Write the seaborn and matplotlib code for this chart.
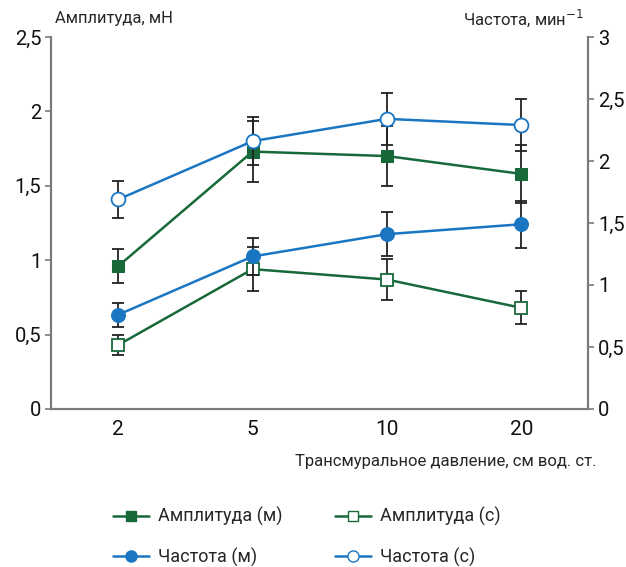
import matplotlib
matplotlib.use("Agg")
import matplotlib.pyplot as plt
import numpy as np
import pandas as pd
import seaborn as sns

# transmural pressure, cm H2O (categorical x)
pressure = ["2", "5", "10", "20"]

# amplitude, mN (left axis)
amp_m = [0.96, 1.73, 1.70, 1.58]
amp_m_err = [0.115, 0.205, 0.20, 0.195]
amp_c = [0.43, 0.94, 0.87, 0.68]
amp_c_err = [0.066, 0.15, 0.14, 0.11]

# frequency, min^-1 (right axis)
freq_m = [0.76, 1.23, 1.41, 1.49]
freq_m_err = [0.097, 0.15, 0.18, 0.19]
freq_c = [1.69, 2.16, 2.34, 2.29]
freq_c_err = [0.148, 0.195, 0.21, 0.21]

GREEN = "#17693a"
BLUE = "#1a76c2"
GRID = "#7a7a7a"


def comma(v):
    s = f"{v:g}"
    return s.replace(".", ",")


def main() -> None:
    sns.set_style("white")
    plt.rcParams["font.family"] = ["Roboto", "DejaVu Sans"]
    plt.rcParams["axes.unicode_minus"] = False

    pos = np.arange(len(pressure))
    df = pd.DataFrame({
        "pos": pos,
        "amp_m": amp_m, "amp_c": amp_c,
        "freq_m": freq_m, "freq_c": freq_c,
    })

    fig = plt.figure(figsize=(6.26, 5.67), dpi=100)
    ax = fig.add_axes([0.0815, 0.2787, 0.8585, 0.656])
    ax2 = ax.twinx()

    err_kw = dict(fmt="none", ecolor="#222222", elinewidth=1.3, capsize=4, capthick=1.3)

    ax.errorbar(pos, amp_m, yerr=amp_m_err, zorder=1, **err_kw)
    ax.errorbar(pos, amp_c, yerr=amp_c_err, zorder=1, **err_kw)
    sns.lineplot(data=df, x="pos", y="amp_m", ax=ax, color=GREEN, lw=1.8,
                 marker="s", markersize=8.5, markerfacecolor=GREEN,
                 markeredgecolor=GREEN, zorder=3)
    sns.lineplot(data=df, x="pos", y="amp_c", ax=ax, color=GREEN, lw=1.8,
                 marker="s", markersize=8, markerfacecolor="white",
                 markeredgecolor=GREEN, markeredgewidth=1.3, zorder=3)

    ax2.errorbar(pos, freq_m, yerr=freq_m_err, zorder=1, **err_kw)
    ax2.errorbar(pos, freq_c, yerr=freq_c_err, zorder=1, **err_kw)
    sns.lineplot(data=df, x="pos", y="freq_m", ax=ax2, color=BLUE, lw=1.8,
                 marker="o", markersize=10, markerfacecolor=BLUE,
                 markeredgecolor=BLUE, zorder=3)
    sns.lineplot(data=df, x="pos", y="freq_c", ax=ax2, color=BLUE, lw=1.8,
                 marker="o", markersize=10, markerfacecolor="white",
                 markeredgecolor=BLUE, markeredgewidth=1.3, zorder=3)

    ax.set_xlim(-0.5, len(pressure) - 0.5)
    ax.set_ylim(0, 2.5)
    ax2.set_ylim(0, 3)
    ax.set_xticks(pos)
    ax.set_xticklabels(pressure)
    lt = np.arange(0, 2.51, 0.5)
    rt = np.arange(0, 3.01, 0.5)
    ax.set_yticks(lt)
    ax.set_yticklabels([comma(v) for v in lt])
    ax2.set_yticks(rt)
    ax2.set_yticklabels([comma(v) for v in rt])

    for a in (ax, ax2):
        a.set_xlabel("")
        a.set_ylabel("")
        a.spines["top"].set_visible(False)
        for s in ("left", "right", "bottom"):
            a.spines[s].set_color(GRID)
            a.spines[s].set_linewidth(1.5)
        a.tick_params(axis="y", length=4, width=1.2, color=GRID, labelsize=14.5,
                      labelcolor="#111111", pad=3)
    ax.tick_params(axis="x", length=0, labelsize=15, labelcolor="#111111", pad=8)
    ax.grid(False)
    ax2.grid(False)

    fig.text(0.088, 0.968, "Амплитуда, мН", fontsize=12, ha="left", va="center")
    fig.text(0.932, 0.968, "Частота, мин$^{-1}$", fontsize=12, ha="right", va="center")
    fig.text(0.953, 0.186, "Трансмуральное давление, см вод. ст.", fontsize=12,
             ha="right", va="center")

    handles = [
        plt.Line2D([], [], color=GREEN, lw=1.8, marker="s", markersize=7,
                   markerfacecolor=GREEN, markeredgecolor=GREEN),
        plt.Line2D([], [], color=BLUE, lw=1.8, marker="o", markersize=8,
                   markerfacecolor=BLUE, markeredgecolor=BLUE),
        plt.Line2D([], [], color=GREEN, lw=1.8, marker="s", markersize=7,
                   markerfacecolor="white", markeredgecolor=GREEN),
        plt.Line2D([], [], color=BLUE, lw=1.8, marker="o", markersize=8,
                   markerfacecolor="white", markeredgecolor=BLUE),
    ]
    labels = ["Амплитуда (м)", "Частота (м)", "Амплитуда (с)", "Частота (с)"]
    fig.legend(handles, labels, ncol=2, loc="center left",
               bbox_to_anchor=(0.155, 0.053), frameon=False, fontsize=13,
               handlelength=2.0, handletextpad=0.5, columnspacing=2.9,
               labelspacing=1.2)

    fig.savefig("out.png", dpi=100)
    plt.close(fig)


if __name__ == "__main__":
    main()
